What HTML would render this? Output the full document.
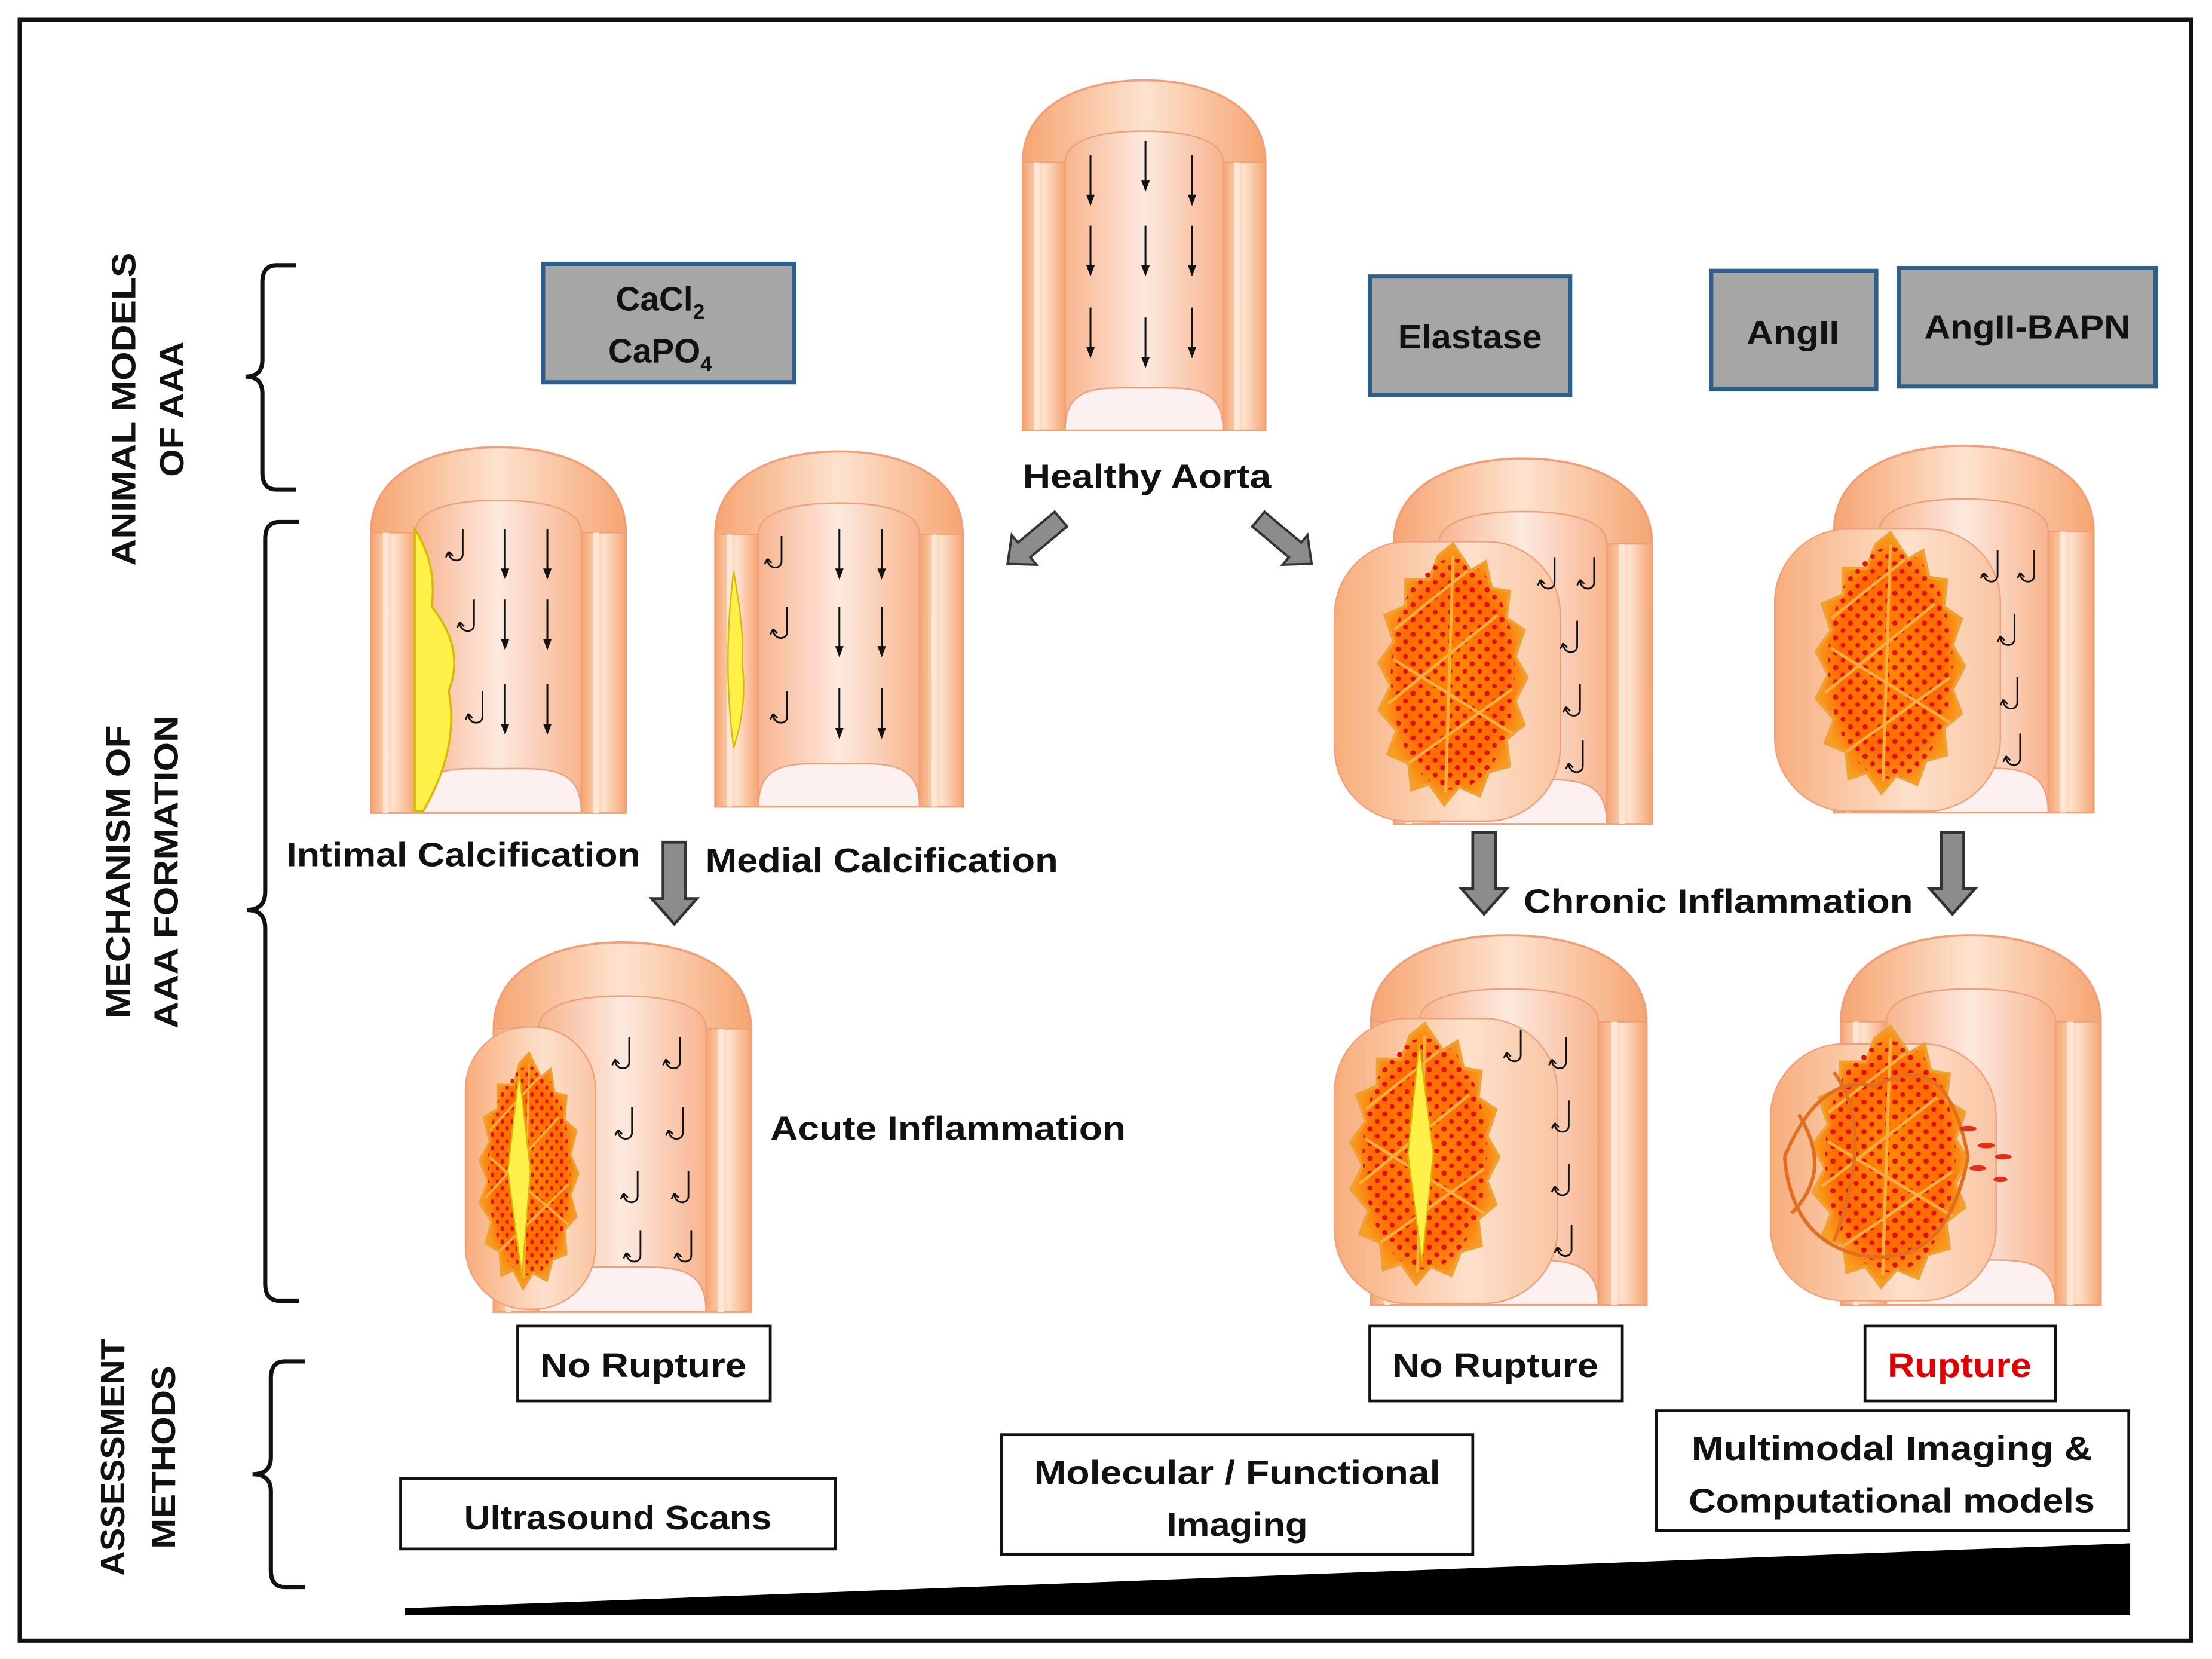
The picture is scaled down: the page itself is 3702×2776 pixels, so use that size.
<!DOCTYPE html>
<html><head><meta charset="utf-8"><style>
html,body{margin:0;padding:0;background:#fff}
svg{display:block}
text{font-family:"Liberation Sans",sans-serif;font-weight:bold;fill:#111}
</style></head><body>
<svg width="3702" height="2776" viewBox="0 0 1568 1176" preserveAspectRatio="none" xmlns="http://www.w3.org/2000/svg">
<defs>
<linearGradient id="wall" x1="0" x2="1" y1="0" y2="0">
<stop offset="0" stop-color="#f6a572"/><stop offset="0.5" stop-color="#fde3cf"/><stop offset="1" stop-color="#f6a572"/></linearGradient>
<linearGradient id="inner" x1="0" x2="1" y1="0" y2="0">
<stop offset="0" stop-color="#f8b48e"/><stop offset="0.5" stop-color="#fde9df"/><stop offset="1" stop-color="#f8b48e"/></linearGradient>
<radialGradient id="les" cx="0.5" cy="0.5" r="0.5">
<stop offset="0" stop-color="#ff8a00"/><stop offset="0.7" stop-color="#ff6a00"/><stop offset="1" stop-color="#f7a020"/></radialGradient>
<linearGradient id="bul" x1="0" x2="1"><stop offset="0" stop-color="#f7ad7c"/><stop offset="0.6" stop-color="#fde0cb"/><stop offset="1" stop-color="#f9c5a2"/></linearGradient>
<pattern id="dots" width="10" height="10" patternUnits="userSpaceOnUse">
<circle cx="3" cy="3" r="1.8" fill="#e0101a"/><circle cx="8" cy="8" r="1.6" fill="#e0101a"/></pattern>
<g id="aorta">
<path d="M0,58 C0,18 40,0 86,0 C132,0 172,18 172,58 L172,248 L0,248 Z" fill="url(#wall)" stroke="#eea07a" stroke-width="1.5"/>
<path d="M30,58 C30,42 55,36 86,36 C117,36 142,42 142,58 L142,248 L30,248 Z" fill="url(#inner)" stroke="#eea07a"/>
<path d="M30,248 C30,215 55,218 86,218 C117,218 142,215 142,248 Z" fill="#fdf0f0" stroke="#eea07a"/>
<rect x="0" y="58" width="30" height="190" fill="url(#wall)" stroke="#eea07a"/>
<rect x="142" y="58" width="30" height="190" fill="url(#wall)" stroke="#eea07a"/>
<line x1="10" y1="58" x2="10" y2="248" stroke="#fde6d6" stroke-width="4"/>
<line x1="152" y1="58" x2="152" y2="248" stroke="#fde6d6" stroke-width="4"/>
</g>
<g id="darr"><line x1="0" y1="0" x2="0" y2="34" stroke="#111" stroke-width="1.3"/><path d="M-3,28 L0,36 L3,28 Z" fill="#111"/></g>
<g id="hook"><path d="M6,0 L6,18 C6,24 -4,24 -4,16 M -4,16 l-2,4 M-4,16 l3,3" fill="none" stroke="#111" stroke-width="1.2"/></g>
<g id="lesion">
<path d="M0,-88 L12,-70 L22,-76 L26,-58 L38,-56 L36,-38 L48,-30 L42,-12 L50,2 L42,18 L48,34 L36,44 L38,62 L24,66 L18,82 L4,76 L-6,88 L-16,74 L-28,78 L-30,60 L-44,54 L-38,38 L-50,24 L-42,8 L-50,-8 L-40,-22 L-46,-40 L-32,-46 L-32,-64 L-16,-64 L-10,-80 Z" fill="url(#les)" stroke="#f0a030" stroke-width="2"/>
<ellipse cx="0" cy="0" rx="42" ry="78" fill="url(#dots)"/>
<path d="M-40,-30 L10,-70 M-44,20 L30,-40 M-30,60 L40,10 M0,-80 L-5,80 M-40,-10 L40,40" stroke="#f7b040" stroke-width="2" fill="none"/>
</g>
<g id="garrow"><path d="M-8,0 L8,0 L8,40 L16,40 L0,58 L-16,40 L-8,40 Z" fill="#8c8c8c" stroke="#333" stroke-width="2"/></g>
</defs>
<rect width="1568" height="1176" fill="#fff"/>
<rect x="14" y="14" width="1539" height="1149" fill="none" stroke="#111" stroke-width="3"/>

<g font-size="24">
<text transform="translate(96,290) rotate(-90)" text-anchor="middle" textLength="222" lengthAdjust="spacingAndGlyphs">ANIMAL MODELS</text>
<text transform="translate(130,290) rotate(-90)" text-anchor="middle" textLength="96" lengthAdjust="spacingAndGlyphs">OF AAA</text>
<text transform="translate(92,618) rotate(-90)" text-anchor="middle" textLength="208" lengthAdjust="spacingAndGlyphs">MECHANISM OF</text>
<text transform="translate(126,618) rotate(-90)" text-anchor="middle" textLength="222" lengthAdjust="spacingAndGlyphs">AAA FORMATION</text>
<text transform="translate(88,1033) rotate(-90)" text-anchor="middle" textLength="168" lengthAdjust="spacingAndGlyphs">ASSESSMENT</text>
<text transform="translate(124,1033) rotate(-90)" text-anchor="middle" textLength="130" lengthAdjust="spacingAndGlyphs">METHODS</text>
</g>
<g fill="none" stroke="#111" stroke-width="3">
<path d="M210,188 L196,188 Q186,188 186,200 L186,255 Q186,267 174,267 Q186,267 186,279 L186,335 Q186,347 196,347 L210,347"/>
<path d="M212,370 L198,370 Q188,370 188,382 L188,632 Q188,645 175,645 Q188,645 188,658 L188,910 Q188,922 198,922 L212,922"/>
<path d="M216,965 L202,965 Q192,965 192,977 L192,1033 Q192,1045 179,1045 Q192,1045 192,1057 L192,1113 Q192,1125 202,1125 L216,1125"/>
</g>

<g fill="#a6a6a6" stroke="#2e5f8a" stroke-width="3">
<rect x="385" y="187" width="178" height="84"/>
<rect x="971" y="196" width="142" height="84"/>
<rect x="1213" y="192" width="117" height="84"/>
<rect x="1346" y="190" width="182" height="84"/>
</g>
<g font-size="24">
<text x="468" y="220" text-anchor="middle">CaCl<tspan font-size="15" dy="6">2</tspan></text>
<text x="468" y="257" text-anchor="middle">CaPO<tspan font-size="15" dy="6">4</tspan></text>
<text x="1042" y="247" text-anchor="middle" textLength="102" lengthAdjust="spacingAndGlyphs">Elastase</text>
<text x="1271" y="244" text-anchor="middle" textLength="66" lengthAdjust="spacingAndGlyphs">AngII</text>
<text x="1437" y="240" text-anchor="middle" textLength="146" lengthAdjust="spacingAndGlyphs">AngII-BAPN</text>
</g>

<use href="#aorta" transform="translate(725,57)"/>
<use href="#darr" transform="translate(773,110)"/><use href="#darr" transform="translate(812,100)"/><use href="#darr" transform="translate(845,110)"/>
<use href="#darr" transform="translate(773,160)"/><use href="#darr" transform="translate(812,160)"/><use href="#darr" transform="translate(845,160)"/>
<use href="#darr" transform="translate(773,218)"/><use href="#darr" transform="translate(812,225)"/><use href="#darr" transform="translate(845,218)"/>

<use href="#aorta" transform="translate(263,317) scale(1.05,1.045)"/>
<path d="M294,375 Q310,400 306,430 Q330,460 318,490 Q326,530 300,575 L294,575 Z" fill="#fff04a" stroke="#d8b800" stroke-width="1.5"/>
<use href="#hook" transform="translate(322,375)"/><use href="#hook" transform="translate(330,425)"/><use href="#hook" transform="translate(336,490)"/>
<use href="#darr" transform="translate(358,375)"/><use href="#darr" transform="translate(388,375)"/><use href="#darr" transform="translate(358,425)"/><use href="#darr" transform="translate(388,425)"/><use href="#darr" transform="translate(358,485)"/><use href="#darr" transform="translate(388,485)"/>

<use href="#aorta" transform="translate(507,320) scale(1.02,1.015)"/>
<path d="M520,405 Q528,450 526,470 Q530,500 520,530 Q512,470 520,405 Z" fill="#fff04a" stroke="#d8b800"/>
<use href="#hook" transform="translate(548,380)"/><use href="#hook" transform="translate(552,430)"/><use href="#hook" transform="translate(552,490)"/>
<use href="#darr" transform="translate(595,375)"/><use href="#darr" transform="translate(625,375)"/><use href="#darr" transform="translate(595,430)"/><use href="#darr" transform="translate(625,430)"/><use href="#darr" transform="translate(595,488)"/><use href="#darr" transform="translate(625,488)"/>

<use href="#aorta" transform="translate(350,668) scale(1.06,1.056)"/>
<rect x="330" y="728" width="92" height="200" rx="44" fill="url(#bul)" stroke="#eea07a"/>
<use href="#lesion" transform="translate(375,830) scale(0.7,0.95)"/>
<path d="M368,760 L376,830 L370,905 L360,830 Z" fill="#fff04a" stroke="#d8b800"/>
<use href="#hook" transform="translate(440,735)"/><use href="#hook" transform="translate(476,735)"/>
<use href="#hook" transform="translate(442,785)"/><use href="#hook" transform="translate(478,785)"/>
<use href="#hook" transform="translate(446,830)"/><use href="#hook" transform="translate(482,830)"/>
<use href="#hook" transform="translate(448,872)"/><use href="#hook" transform="translate(484,872)"/>

<use href="#aorta" transform="translate(988,325) scale(1.064,1.044)"/>
<rect x="946" y="384" width="160" height="198" rx="52" fill="url(#bul)" stroke="#eea07a"/>
<use href="#lesion" transform="translate(1030,478) scale(1.05,1.05)"/>
<use href="#hook" transform="translate(1096,395)"/><use href="#hook" transform="translate(1124,395)"/><use href="#hook" transform="translate(1112,440)"/><use href="#hook" transform="translate(1114,485)"/><use href="#hook" transform="translate(1116,525)"/>

<use href="#aorta" transform="translate(1300,316) scale(1.07,1.048)"/>
<rect x="1258" y="375" width="160" height="200" rx="52" fill="url(#bul)" stroke="#eea07a"/>
<use href="#lesion" transform="translate(1340,470) scale(1.05,1.05)"/>
<use href="#hook" transform="translate(1410,390)"/><use href="#hook" transform="translate(1436,390)"/><use href="#hook" transform="translate(1422,435)"/><use href="#hook" transform="translate(1424,480)"/><use href="#hook" transform="translate(1426,520)"/>

<use href="#aorta" transform="translate(972,663) scale(1.134,1.056)"/>
<rect x="946" y="722" width="158" height="202" rx="52" fill="url(#bul)" stroke="#eea07a"/>
<use href="#lesion" transform="translate(1010,818) scale(1.05,1.05)"/>
<path d="M1006,740 L1016,818 L1008,895 L998,818 Z" fill="#fff04a" stroke="#d8b800"/>
<use href="#hook" transform="translate(1072,730)"/><use href="#hook" transform="translate(1104,735)"/><use href="#hook" transform="translate(1106,780)"/><use href="#hook" transform="translate(1106,825)"/><use href="#hook" transform="translate(1108,868)"/>

<use href="#aorta" transform="translate(1305,663) scale(1.07,1.056)"/>
<rect x="1255" y="740" width="160" height="182" rx="52" fill="url(#bul)" stroke="#eea07a"/>
<use href="#lesion" transform="translate(1340,820) scale(1.1,1.05)"/>
<path d="M1265,820 Q1290,760 1330,770 Q1380,740 1395,820 Q1380,900 1320,890 Q1270,880 1265,820 M1275,790 Q1300,830 1270,860 M1300,760 Q1330,800 1300,880" fill="none" stroke="#e07020" stroke-width="2.5"/>
<g fill="#e0301a"><ellipse cx="1395" cy="800" rx="6" ry="2"/><ellipse cx="1408" cy="812" rx="6" ry="2"/><ellipse cx="1420" cy="820" rx="6" ry="2"/><ellipse cx="1402" cy="828" rx="6" ry="2"/><ellipse cx="1418" cy="836" rx="5" ry="2"/></g>

<use href="#garrow" transform="translate(752,368) rotate(50) scale(0.85)"/>
<use href="#garrow" transform="translate(892,368) rotate(-50) scale(0.85)"/>
<use href="#garrow" transform="translate(478,597)"/>
<use href="#garrow" transform="translate(1052,590)"/>
<use href="#garrow" transform="translate(1384,590)"/>

<g font-size="24">
<text x="813" y="346" text-anchor="middle" textLength="176" lengthAdjust="spacingAndGlyphs">Healthy Aorta</text>
<text x="203" y="614" textLength="251" lengthAdjust="spacingAndGlyphs">Intimal Calcification</text>
<text x="500" y="618" textLength="250" lengthAdjust="spacingAndGlyphs">Medial Calcification</text>
<text x="1080" y="647" textLength="276" lengthAdjust="spacingAndGlyphs">Chronic Inflammation</text>
<text x="546" y="808" textLength="252" lengthAdjust="spacingAndGlyphs">Acute Inflammation</text>
</g>

<g fill="#fff" stroke="#111" stroke-width="2">
<rect x="367" y="940" width="179" height="53"/>
<rect x="971" y="940" width="179" height="53"/>
<rect x="1322" y="940" width="135" height="53"/>
<rect x="284" y="1048" width="308" height="50"/>
<rect x="710" y="1017" width="334" height="85"/>
<rect x="1174" y="1000" width="335" height="85"/>
</g>
<g font-size="24" text-anchor="middle">
<text x="456" y="976" textLength="146" lengthAdjust="spacingAndGlyphs">No Rupture</text>
<text x="1060" y="976" textLength="146" lengthAdjust="spacingAndGlyphs">No Rupture</text>
<text x="1389" y="976" textLength="102" lengthAdjust="spacingAndGlyphs" style="fill:#e00000">Rupture</text>
<text x="438" y="1084" textLength="218" lengthAdjust="spacingAndGlyphs">Ultrasound Scans</text>
<text x="877" y="1052" textLength="288" lengthAdjust="spacingAndGlyphs">Molecular / Functional</text>
<text x="877" y="1089" textLength="100" lengthAdjust="spacingAndGlyphs">Imaging</text>
<text x="1341" y="1035" textLength="284" lengthAdjust="spacingAndGlyphs">Multimodal Imaging &amp;</text>
<text x="1341" y="1072" textLength="288" lengthAdjust="spacingAndGlyphs">Computational models</text>
</g>

<polygon points="287,1140 1510,1094 1510,1145 287,1145" fill="#000"/>
</svg>
</body></html>
